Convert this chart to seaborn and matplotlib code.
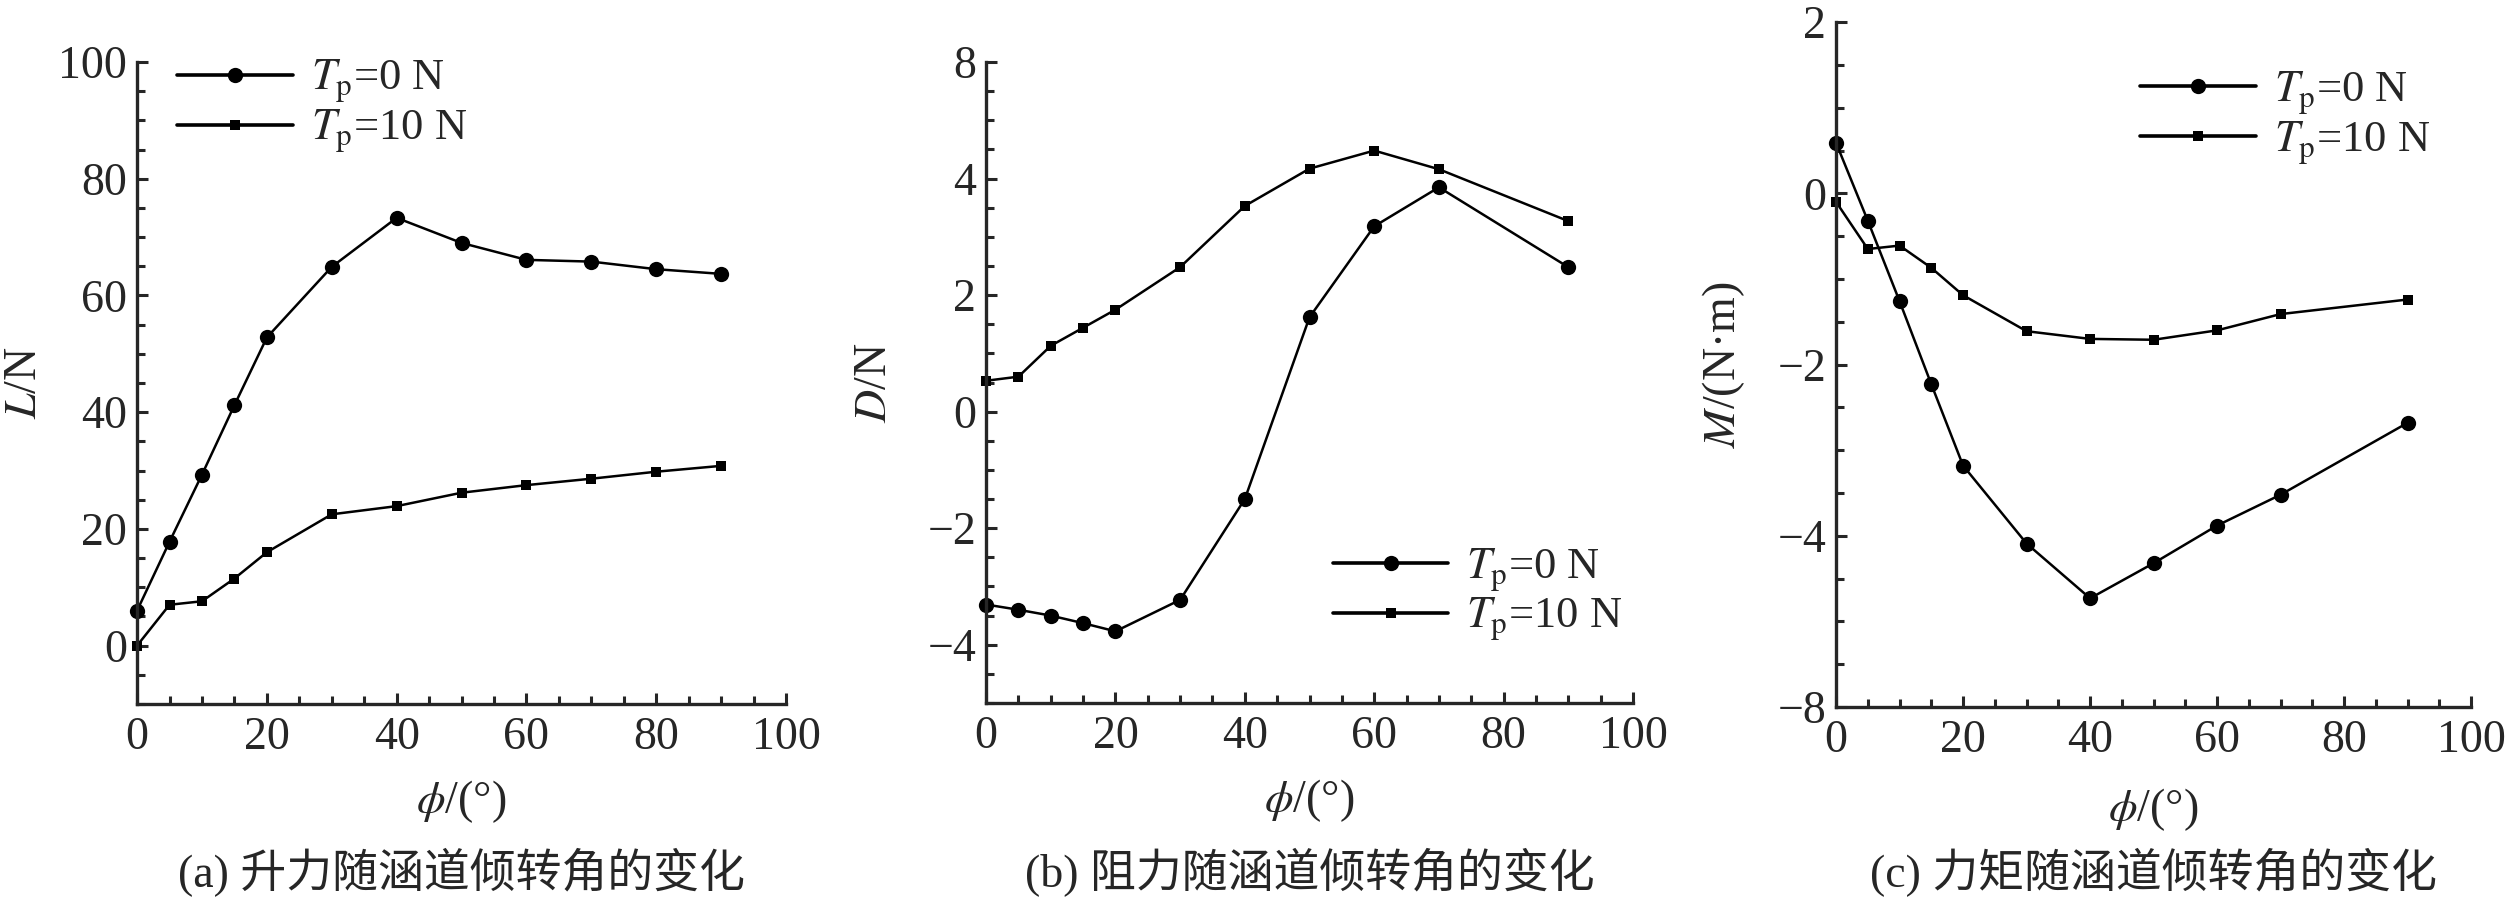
import numpy as np
import pandas as pd
import matplotlib
matplotlib.use('Agg')
import matplotlib.pyplot as plt
from matplotlib.ticker import MultipleLocator, FixedLocator, FixedFormatter
import seaborn as sns

# data
phi_a = [0, 5, 10, 15, 20, 30, 40, 50, 60, 70, 80, 90]
lift_0 = [6.0, 17.8, 29.3, 41.2, 52.8, 64.9, 73.3, 69.0, 66.1, 65.8, 64.5, 63.7]
lift_10 = [0.0, 7.0, 7.6, 11.5, 16.0, 22.5, 23.9, 26.2, 27.5, 28.6, 29.8, 30.8]

phi_bc = [0, 5, 10, 15, 20, 30, 40, 50, 60, 70, 90]
drag_0 = [-3.31, -3.40, -3.50, -3.63, -3.77, -3.23, -1.50, 1.62, 3.18, 3.85, 2.48]
drag_10 = [0.53, 0.60, 1.13, 1.44, 1.75, 2.48, 3.53, 4.17, 4.48, 4.16, 3.27]
moment_0 = [0.59, -0.32, -1.26, -2.23, -3.18, -4.09, -4.73, -4.32, -3.88, -3.52, -2.68]
moment_10 = [-0.10, -0.65, -0.61, -0.87, -1.19, -1.61, -1.70, -1.71, -1.60, -1.41, -1.24]

series_labels = ['$T_\\mathrm{p}$=0 N', '$T_\\mathrm{p}$=10 N']
ylabels = ['$L$/N', '$D$/N', '$M$/(N·m)']
xlabel = '$\\phi$/(°)'
captions = ['(a) 升力随涵道倾转角的变化', '(b) 阻力随涵道倾转角的变化', '(c) 力矩随涵道倾转角的变化']

# y axes (tick labels as printed in the original figure)
a_ticks, a_labels = [0, 20, 40, 60, 80, 100], ['0', '20', '40', '60', '80', '100']
b_ticks, b_labels = [-4, -2, 0, 2, 4, 6], ['−4', '−2', '0', '2', '4', '8']
c_ticks, c_labels = [-6, -4, -2, 0, 2], ['−8', '−4', '−2', '0', '2']

sns.set_style('ticks')
plt.rcParams['font.family'] = ['Liberation Serif', 'Noto Sans CJK SC']
plt.rcParams['mathtext.fontset'] = 'stix'
plt.rcParams['axes.unicode_minus'] = True

FS = 33

fig = plt.figure(figsize=(25.2, 9), dpi=100)
ax_a = fig.add_axes([0.0544, 0.2178, 0.2575, 0.7133])
ax_b = fig.add_axes([0.3913, 0.2189, 0.2567, 0.7122])
ax_c = fig.add_axes([0.7286, 0.2144, 0.2520, 0.7610])

panels = [
    (ax_a, phi_a, lift_0, lift_10, (-10, 100), a_ticks, a_labels, 5, (0.062, 0.931)),
    (ax_b, phi_bc, drag_0, drag_10, (-5, 6), b_ticks, b_labels, 0.5, (0.536, 0.169)),
    (ax_c, phi_bc, moment_0, moment_10, (-6, 2), c_ticks, c_labels, 0.5, (0.479, 0.860)),
]

for i, (ax, x, y0, y10, ylim, yt, ytl, yminor, legpos) in enumerate(panels):
    df = pd.DataFrame({'phi': x + x, 'val': y0 + y10,
                       'Tp': [series_labels[0]] * len(x) + [series_labels[1]] * len(x)})
    sns.lineplot(data=df[df['Tp'] == series_labels[0]], x='phi', y='val', ax=ax,
                 color='black', lw=1.8, marker='o', markersize=11, markeredgewidth=0,
                 label=series_labels[0], clip_on=False)
    sns.lineplot(data=df[df['Tp'] == series_labels[1]], x='phi', y='val', ax=ax,
                 color='black', lw=1.8, marker='s', markersize=7.5, markeredgewidth=0,
                 label=series_labels[1], clip_on=False)

    ax.set_xlim(0, 100)
    ax.set_ylim(*ylim)
    ax.xaxis.set_major_locator(MultipleLocator(20))
    ax.xaxis.set_minor_locator(MultipleLocator(5))
    ax.yaxis.set_major_locator(FixedLocator(yt))
    ax.yaxis.set_major_formatter(FixedFormatter(ytl))
    ax.yaxis.set_minor_locator(MultipleLocator(yminor))

    sns.despine(ax=ax)
    for s in ['left', 'bottom']:
        ax.spines[s].set_linewidth(2.4)
    ax.tick_params(which='major', direction='in', length=8, width=2.2, labelsize=FS, pad=9)
    ax.tick_params(which='minor', direction='in', length=6, width=2.2)
    ax.tick_params(axis='y', which='major', pad=7)

    ax.set_xlabel(xlabel, fontsize=FS)
    ax.set_ylabel(ylabels[i], fontsize=FS)
    ax.xaxis.set_label_coords(0.5, -0.115)
    ax.yaxis.set_label_coords(-0.14, 0.5)

    leg = ax.legend(loc='center left', bbox_to_anchor=legpos, frameon=False, fontsize=FS - 1,
                    handlelength=2.6, handletextpad=0.4, labelspacing=0.05,
                    borderpad=0, borderaxespad=0)
    for ln in leg.get_lines():
        ln.set_linewidth(2.6)

    pos = ax.get_position()
    fig.text(pos.x0 + pos.width / 2, 0.031, captions[i], fontsize=FS,
             ha='center', va='center')

fig.savefig('out.png', dpi=100, facecolor='white')
